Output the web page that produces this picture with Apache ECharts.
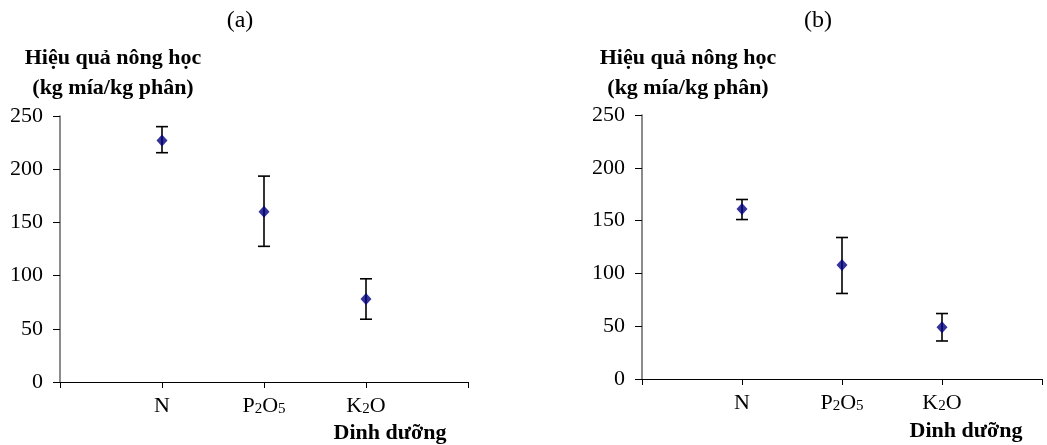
<!DOCTYPE html>
<html><head><meta charset="utf-8">
<script src="https://cdn.jsdelivr.net/npm/echarts@6/dist/echarts.min.js"></script>
<style>html,body{margin:0;padding:0;background:#fff}#c{width:1047px;height:445px}</style>
</head><body><div id="c"></div>
<script>
// ---- data ----
const categories = ['N', 'P2O5', 'K2O'];
const categoryLabels = ['', '{n|N}', '{n|P}{s|2}{n|O}{s|5}', '{n|K}{s|2}{n|O}', ''];
const yTicks = [0, 50, 100, 150, 200, 250];
const meanA = [227, 160, 78];
const lowA  = [215.5, 127.5, 59];
const highA = [240, 193.5, 97];
const meanB = [161, 108, 49];
const lowB  = [151, 81, 36];
const highB = [170, 134, 62];
const panelTitles = ['(a)', '(b)'];
const yTitle1 = 'Hiệu quả nông học';
const yTitle2 = '(kg mía/kg phân)';
const xTitle = 'Dinh dưỡng';

const FONT = '"Liberation Serif","Times New Roman",serif';

function xAxisCfg(gi) {
  return {
    type: 'value', gridIndex: gi, min: 0, max: 4, interval: 1,
    axisLine: { show: true, onZero: false, lineStyle: { color: '#000', width: 1 } },
    axisTick: { show: true, length: 6, lineStyle: { color: '#000' } },
    splitLine: { show: false },
    axisLabel: {
      margin: 13, color: '#000', fontFamily: FONT, fontSize: 22,
      formatter: v => categoryLabels[v] || '',
      rich: {
        n: { fontSize: 22, fontFamily: FONT, color: '#000', verticalAlign: 'bottom', lineHeight: 22 },
        s: { fontSize: 15, fontFamily: FONT, color: '#000', verticalAlign: 'bottom', lineHeight: 11 }
      }
    }
  };
}
function yAxisCfg(gi) {
  return {
    type: 'value', gridIndex: gi, min: yTicks[0], max: yTicks[yTicks.length - 1], interval: 50,
    axisLine: { show: true, lineStyle: { color: '#666', width: 1.5 } },
    axisTick: { show: true, length: 7, lineStyle: { color: '#000' } },
    splitLine: { show: false },
    axisLabel: { margin: 17, color: '#000', fontFamily: FONT, fontSize: 22 }
  };
}
function points(mean) { return mean.map((v, i) => [i + 1, v]); }
function errData(low, high) { return low.map((l, i) => [i + 1, l, high[i]]); }
function errSeries(gi, low, high) {
  return {
    type: 'custom', xAxisIndex: gi, yAxisIndex: gi, z: 1,
    data: errData(low, high),
    renderItem: function (params, api) {
      const x = api.value(0);
      const lo = api.coord([x, api.value(1)]);
      const hi = api.coord([x, api.value(2)]);
      const w = 6;
      const st = { stroke: '#000', lineWidth: 1.6 };
      return {
        type: 'group', children: [
          { type: 'line', shape: { x1: lo[0], y1: lo[1], x2: hi[0], y2: hi[1] }, style: st },
          { type: 'line', shape: { x1: lo[0] - w, y1: lo[1], x2: lo[0] + w, y2: lo[1] }, style: st },
          { type: 'line', shape: { x1: hi[0] - w, y1: hi[1], x2: hi[0] + w, y2: hi[1] }, style: st }
        ]
      };
    }
  };
}
function ptSeries(gi, mean) {
  return {
    type: 'scatter', xAxisIndex: gi, yAxisIndex: gi, z: 3,
    symbol: 'diamond', symbolSize: [11, 12],
    itemStyle: { color: '#000080' },
    data: points(mean)
  };
}
function txt(x, y, s, font) {
  return { type: 'text', x: x, y: y, style: {
    text: s, x: 0, y: 0, align: 'center', verticalAlign: 'middle',
    font: font + ' ' + FONT, fill: '#000' } };
}

const chart = echarts.init(document.getElementById('c'));
chart.setOption({
  animation: false,
  backgroundColor: '#fff',
  grid: [
    { left: 60, top: 116, width: 408, height: 266 },
    { left: 642, top: 115, width: 400, height: 264 }
  ],
  xAxis: [xAxisCfg(0), xAxisCfg(1)],
  yAxis: [yAxisCfg(0), yAxisCfg(1)],
  series: [
    errSeries(0, lowA, highA), ptSeries(0, meanA),
    errSeries(1, lowB, highB), ptSeries(1, meanB)
  ],
  graphic: [
    txt(240, 21, panelTitles[0], '24px'),
    txt(818, 21, panelTitles[1], '24px'),
    txt(113, 58, yTitle1, 'bold 22px'),
    txt(113, 88, yTitle2, 'bold 22px'),
    txt(688, 58, yTitle1, 'bold 22px'),
    txt(688, 88, yTitle2, 'bold 22px'),
    txt(390, 433, xTitle, 'bold 22px'),
    txt(966, 431, xTitle, 'bold 22px')
  ]
});
</script></body></html>
